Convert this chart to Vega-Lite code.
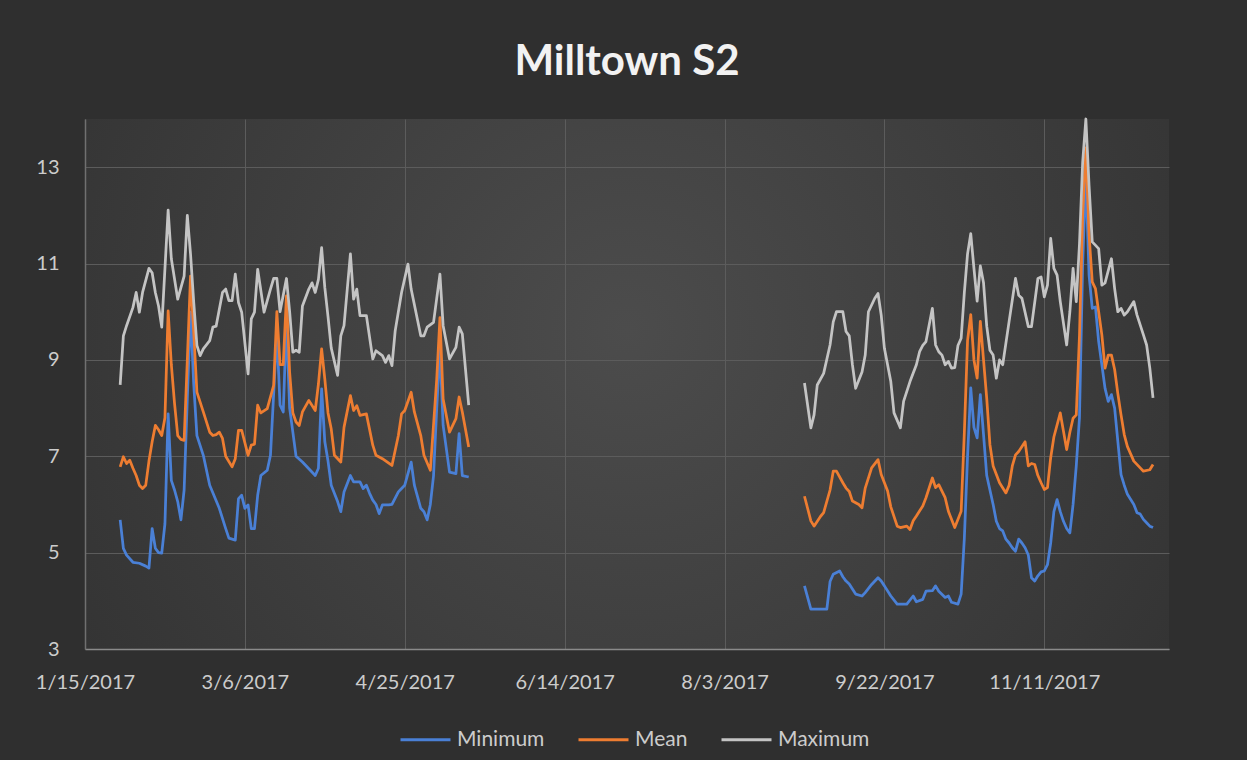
{
  "$schema": "https://vega.github.io/schema/vega-lite/v6.json",
  "width": 1084,
  "height": 530,
  "padding": {"left": 35, "top": 40, "right": 79, "bottom": 10},
  "background": "#2f2f2f",
  "title": {"text": "Milltown S2", "fontSize": 42, "font": "Lato", "fontWeight": "bold", "color": "#f2f2f2", "offset": 34, "anchor": "middle"},
  "config": {
    "view": {"stroke": null, "fill": {"gradient": "radial", "x1": 0.5, "y1": 0.45, "r1": 0, "x2": 0.5, "y2": 0.45, "r2": 0.75, "stops": [{"offset": 0, "color": "#4c4c4c"}, {"offset": 1, "color": "#2d2d2d"}]}},
    "font": "Lato",
    "axisX": {"grid": true, "gridColor": "#5c5c5c", "gridWidth": 1, "domainColor": "#8a8a8a", "domainWidth": 1.5, "ticks": false, "labelFontSize": 20, "labelColor": "#cccccc", "labelPadding": 23, "labelFlush": false, "labelOverlap": false, "labelFont": "Lato"},
    "axisY": {"grid": true, "gridColor": "#5c5c5c", "gridWidth": 1, "domainColor": "#707070", "domainWidth": 1.5, "ticks": false, "labelFontSize": 20, "labelColor": "#cccccc", "labelPadding": 26, "labelFont": "Lato"},
    "legend": {"symbolType": "stroke", "symbolSize": 2500, "symbolStrokeWidth": 3, "labelFontSize": 21, "labelColor": "#cccccc", "labelFont": "Lato", "columnPadding": 27, "labelOffset": 5}
  },
  "data": {"values": [
    {"d":"2017-01-26","s":"Minimum","v":5.68,"p":1},
    {"d":"2017-01-27","s":"Minimum","v":5.09,"p":1},
    {"d":"2017-01-28","s":"Minimum","v":4.95,"p":1},
    {"d":"2017-01-30","s":"Minimum","v":4.8,"p":1},
    {"d":"2017-02-01","s":"Minimum","v":4.78,"p":1},
    {"d":"2017-02-03","s":"Minimum","v":4.72,"p":1},
    {"d":"2017-02-04","s":"Minimum","v":4.68,"p":1},
    {"d":"2017-02-05","s":"Minimum","v":5.5,"p":1},
    {"d":"2017-02-06","s":"Minimum","v":5.09,"p":1},
    {"d":"2017-02-07","s":"Minimum","v":5.0,"p":1},
    {"d":"2017-02-08","s":"Minimum","v":4.99,"p":1},
    {"d":"2017-02-09","s":"Minimum","v":5.6,"p":1},
    {"d":"2017-02-10","s":"Minimum","v":7.88,"p":1},
    {"d":"2017-02-11","s":"Minimum","v":6.5,"p":1},
    {"d":"2017-02-12","s":"Minimum","v":6.3,"p":1},
    {"d":"2017-02-13","s":"Minimum","v":6.06,"p":1},
    {"d":"2017-02-14","s":"Minimum","v":5.68,"p":1},
    {"d":"2017-02-15","s":"Minimum","v":6.3,"p":1},
    {"d":"2017-02-16","s":"Minimum","v":8.2,"p":1},
    {"d":"2017-02-17","s":"Minimum","v":9.99,"p":1},
    {"d":"2017-02-18","s":"Minimum","v":8.5,"p":1},
    {"d":"2017-02-19","s":"Minimum","v":7.43,"p":1},
    {"d":"2017-02-21","s":"Minimum","v":7.02,"p":1},
    {"d":"2017-02-23","s":"Minimum","v":6.4,"p":1},
    {"d":"2017-02-26","s":"Minimum","v":5.92,"p":1},
    {"d":"2017-02-28","s":"Minimum","v":5.5,"p":1},
    {"d":"2017-03-01","s":"Minimum","v":5.3,"p":1},
    {"d":"2017-03-03","s":"Minimum","v":5.26,"p":1},
    {"d":"2017-03-04","s":"Minimum","v":6.12,"p":1},
    {"d":"2017-03-05","s":"Minimum","v":6.19,"p":1},
    {"d":"2017-03-06","s":"Minimum","v":5.92,"p":1},
    {"d":"2017-03-07","s":"Minimum","v":5.99,"p":1},
    {"d":"2017-03-08","s":"Minimum","v":5.5,"p":1},
    {"d":"2017-03-09","s":"Minimum","v":5.5,"p":1},
    {"d":"2017-03-10","s":"Minimum","v":6.19,"p":1},
    {"d":"2017-03-11","s":"Minimum","v":6.6,"p":1},
    {"d":"2017-03-13","s":"Minimum","v":6.71,"p":1},
    {"d":"2017-03-14","s":"Minimum","v":7.02,"p":1},
    {"d":"2017-03-16","s":"Minimum","v":9.57,"p":1},
    {"d":"2017-03-17","s":"Minimum","v":8.06,"p":1},
    {"d":"2017-03-18","s":"Minimum","v":7.92,"p":1},
    {"d":"2017-03-19","s":"Minimum","v":9.8,"p":1},
    {"d":"2017-03-20","s":"Minimum","v":8.0,"p":1},
    {"d":"2017-03-21","s":"Minimum","v":7.5,"p":1},
    {"d":"2017-03-22","s":"Minimum","v":7.0,"p":1},
    {"d":"2017-03-24","s":"Minimum","v":6.88,"p":1},
    {"d":"2017-03-26","s":"Minimum","v":6.74,"p":1},
    {"d":"2017-03-28","s":"Minimum","v":6.6,"p":1},
    {"d":"2017-03-29","s":"Minimum","v":6.75,"p":1},
    {"d":"2017-03-30","s":"Minimum","v":8.4,"p":1},
    {"d":"2017-03-31","s":"Minimum","v":7.3,"p":1},
    {"d":"2017-04-01","s":"Minimum","v":6.9,"p":1},
    {"d":"2017-04-02","s":"Minimum","v":6.4,"p":1},
    {"d":"2017-04-04","s":"Minimum","v":6.06,"p":1},
    {"d":"2017-04-05","s":"Minimum","v":5.85,"p":1},
    {"d":"2017-04-06","s":"Minimum","v":6.26,"p":1},
    {"d":"2017-04-08","s":"Minimum","v":6.6,"p":1},
    {"d":"2017-04-09","s":"Minimum","v":6.47,"p":1},
    {"d":"2017-04-11","s":"Minimum","v":6.47,"p":1},
    {"d":"2017-04-12","s":"Minimum","v":6.33,"p":1},
    {"d":"2017-04-13","s":"Minimum","v":6.4,"p":1},
    {"d":"2017-04-14","s":"Minimum","v":6.23,"p":1},
    {"d":"2017-04-15","s":"Minimum","v":6.09,"p":1},
    {"d":"2017-04-16","s":"Minimum","v":6.0,"p":1},
    {"d":"2017-04-17","s":"Minimum","v":5.81,"p":1},
    {"d":"2017-04-18","s":"Minimum","v":5.99,"p":1},
    {"d":"2017-04-20","s":"Minimum","v":5.99,"p":1},
    {"d":"2017-04-21","s":"Minimum","v":6.0,"p":1},
    {"d":"2017-04-23","s":"Minimum","v":6.26,"p":1},
    {"d":"2017-04-24","s":"Minimum","v":6.33,"p":1},
    {"d":"2017-04-25","s":"Minimum","v":6.4,"p":1},
    {"d":"2017-04-27","s":"Minimum","v":6.88,"p":1},
    {"d":"2017-04-28","s":"Minimum","v":6.4,"p":1},
    {"d":"2017-04-30","s":"Minimum","v":5.92,"p":1},
    {"d":"2017-05-01","s":"Minimum","v":5.85,"p":1},
    {"d":"2017-05-02","s":"Minimum","v":5.68,"p":1},
    {"d":"2017-05-03","s":"Minimum","v":6.0,"p":1},
    {"d":"2017-05-04","s":"Minimum","v":6.6,"p":1},
    {"d":"2017-05-05","s":"Minimum","v":8.0,"p":1},
    {"d":"2017-05-06","s":"Minimum","v":9.23,"p":1},
    {"d":"2017-05-07","s":"Minimum","v":7.64,"p":1},
    {"d":"2017-05-09","s":"Minimum","v":6.67,"p":1},
    {"d":"2017-05-11","s":"Minimum","v":6.64,"p":1},
    {"d":"2017-05-12","s":"Minimum","v":7.47,"p":1},
    {"d":"2017-05-13","s":"Minimum","v":6.6,"p":1},
    {"d":"2017-05-15","s":"Minimum","v":6.57,"p":1},
    {"d":"2017-08-28","s":"Minimum","v":4.31,"p":2},
    {"d":"2017-08-30","s":"Minimum","v":3.83,"p":2},
    {"d":"2017-09-04","s":"Minimum","v":3.83,"p":2},
    {"d":"2017-09-05","s":"Minimum","v":4.4,"p":2},
    {"d":"2017-09-06","s":"Minimum","v":4.55,"p":2},
    {"d":"2017-09-08","s":"Minimum","v":4.62,"p":2},
    {"d":"2017-09-09","s":"Minimum","v":4.5,"p":2},
    {"d":"2017-09-10","s":"Minimum","v":4.41,"p":2},
    {"d":"2017-09-11","s":"Minimum","v":4.35,"p":2},
    {"d":"2017-09-13","s":"Minimum","v":4.14,"p":2},
    {"d":"2017-09-15","s":"Minimum","v":4.1,"p":2},
    {"d":"2017-09-16","s":"Minimum","v":4.17,"p":2},
    {"d":"2017-09-18","s":"Minimum","v":4.34,"p":2},
    {"d":"2017-09-20","s":"Minimum","v":4.48,"p":2},
    {"d":"2017-09-21","s":"Minimum","v":4.41,"p":2},
    {"d":"2017-09-22","s":"Minimum","v":4.31,"p":2},
    {"d":"2017-09-24","s":"Minimum","v":4.1,"p":2},
    {"d":"2017-09-26","s":"Minimum","v":3.93,"p":2},
    {"d":"2017-09-29","s":"Minimum","v":3.93,"p":2},
    {"d":"2017-10-01","s":"Minimum","v":4.1,"p":2},
    {"d":"2017-10-02","s":"Minimum","v":3.98,"p":2},
    {"d":"2017-10-04","s":"Minimum","v":4.03,"p":2},
    {"d":"2017-10-05","s":"Minimum","v":4.2,"p":2},
    {"d":"2017-10-07","s":"Minimum","v":4.21,"p":2},
    {"d":"2017-10-08","s":"Minimum","v":4.31,"p":2},
    {"d":"2017-10-09","s":"Minimum","v":4.2,"p":2},
    {"d":"2017-10-11","s":"Minimum","v":4.07,"p":2},
    {"d":"2017-10-12","s":"Minimum","v":4.1,"p":2},
    {"d":"2017-10-13","s":"Minimum","v":3.97,"p":2},
    {"d":"2017-10-15","s":"Minimum","v":3.93,"p":2},
    {"d":"2017-10-16","s":"Minimum","v":4.14,"p":2},
    {"d":"2017-10-17","s":"Minimum","v":5.3,"p":2},
    {"d":"2017-10-18","s":"Minimum","v":7.0,"p":2},
    {"d":"2017-10-19","s":"Minimum","v":8.42,"p":2},
    {"d":"2017-10-20","s":"Minimum","v":7.6,"p":2},
    {"d":"2017-10-21","s":"Minimum","v":7.38,"p":2},
    {"d":"2017-10-22","s":"Minimum","v":8.28,"p":2},
    {"d":"2017-10-23","s":"Minimum","v":7.45,"p":2},
    {"d":"2017-10-24","s":"Minimum","v":6.6,"p":2},
    {"d":"2017-10-25","s":"Minimum","v":6.3,"p":2},
    {"d":"2017-10-26","s":"Minimum","v":6.0,"p":2},
    {"d":"2017-10-27","s":"Minimum","v":5.65,"p":2},
    {"d":"2017-10-28","s":"Minimum","v":5.5,"p":2},
    {"d":"2017-10-29","s":"Minimum","v":5.45,"p":2},
    {"d":"2017-10-30","s":"Minimum","v":5.28,"p":2},
    {"d":"2017-10-31","s":"Minimum","v":5.2,"p":2},
    {"d":"2017-11-01","s":"Minimum","v":5.1,"p":2},
    {"d":"2017-11-02","s":"Minimum","v":5.03,"p":2},
    {"d":"2017-11-03","s":"Minimum","v":5.28,"p":2},
    {"d":"2017-11-04","s":"Minimum","v":5.2,"p":2},
    {"d":"2017-11-05","s":"Minimum","v":5.1,"p":2},
    {"d":"2017-11-06","s":"Minimum","v":4.95,"p":2},
    {"d":"2017-11-07","s":"Minimum","v":4.48,"p":2},
    {"d":"2017-11-08","s":"Minimum","v":4.41,"p":2},
    {"d":"2017-11-09","s":"Minimum","v":4.52,"p":2},
    {"d":"2017-11-10","s":"Minimum","v":4.6,"p":2},
    {"d":"2017-11-11","s":"Minimum","v":4.62,"p":2},
    {"d":"2017-11-12","s":"Minimum","v":4.75,"p":2},
    {"d":"2017-11-13","s":"Minimum","v":5.2,"p":2},
    {"d":"2017-11-14","s":"Minimum","v":5.85,"p":2},
    {"d":"2017-11-15","s":"Minimum","v":6.1,"p":2},
    {"d":"2017-11-16","s":"Minimum","v":5.85,"p":2},
    {"d":"2017-11-17","s":"Minimum","v":5.65,"p":2},
    {"d":"2017-11-18","s":"Minimum","v":5.5,"p":2},
    {"d":"2017-11-19","s":"Minimum","v":5.41,"p":2},
    {"d":"2017-11-20","s":"Minimum","v":6.0,"p":2},
    {"d":"2017-11-21","s":"Minimum","v":6.8,"p":2},
    {"d":"2017-11-22","s":"Minimum","v":7.8,"p":2},
    {"d":"2017-11-23","s":"Minimum","v":11.0,"p":2},
    {"d":"2017-11-24","s":"Minimum","v":12.8,"p":2},
    {"d":"2017-11-25","s":"Minimum","v":10.76,"p":2},
    {"d":"2017-11-26","s":"Minimum","v":10.07,"p":2},
    {"d":"2017-11-27","s":"Minimum","v":10.1,"p":2},
    {"d":"2017-11-28","s":"Minimum","v":9.38,"p":2},
    {"d":"2017-11-29","s":"Minimum","v":8.9,"p":2},
    {"d":"2017-11-30","s":"Minimum","v":8.41,"p":2},
    {"d":"2017-12-01","s":"Minimum","v":8.14,"p":2},
    {"d":"2017-12-02","s":"Minimum","v":8.28,"p":2},
    {"d":"2017-12-03","s":"Minimum","v":8.0,"p":2},
    {"d":"2017-12-04","s":"Minimum","v":7.31,"p":2},
    {"d":"2017-12-05","s":"Minimum","v":6.62,"p":2},
    {"d":"2017-12-06","s":"Minimum","v":6.4,"p":2},
    {"d":"2017-12-07","s":"Minimum","v":6.21,"p":2},
    {"d":"2017-12-09","s":"Minimum","v":6.0,"p":2},
    {"d":"2017-12-10","s":"Minimum","v":5.83,"p":2},
    {"d":"2017-12-11","s":"Minimum","v":5.8,"p":2},
    {"d":"2017-12-12","s":"Minimum","v":5.69,"p":2},
    {"d":"2017-12-13","s":"Minimum","v":5.62,"p":2},
    {"d":"2017-12-14","s":"Minimum","v":5.55,"p":2},
    {"d":"2017-12-15","s":"Minimum","v":5.52,"p":2},

    {"d":"2017-01-26","s":"Mean","v":6.78,"p":1},
    {"d":"2017-01-27","s":"Mean","v":6.99,"p":1},
    {"d":"2017-01-28","s":"Mean","v":6.85,"p":1},
    {"d":"2017-01-29","s":"Mean","v":6.92,"p":1},
    {"d":"2017-01-30","s":"Mean","v":6.75,"p":1},
    {"d":"2017-01-31","s":"Mean","v":6.6,"p":1},
    {"d":"2017-02-01","s":"Mean","v":6.4,"p":1},
    {"d":"2017-02-02","s":"Mean","v":6.33,"p":1},
    {"d":"2017-02-03","s":"Mean","v":6.4,"p":1},
    {"d":"2017-02-04","s":"Mean","v":6.9,"p":1},
    {"d":"2017-02-05","s":"Mean","v":7.3,"p":1},
    {"d":"2017-02-06","s":"Mean","v":7.64,"p":1},
    {"d":"2017-02-07","s":"Mean","v":7.55,"p":1},
    {"d":"2017-02-08","s":"Mean","v":7.43,"p":1},
    {"d":"2017-02-09","s":"Mean","v":7.8,"p":1},
    {"d":"2017-02-10","s":"Mean","v":10.02,"p":1},
    {"d":"2017-02-11","s":"Mean","v":8.9,"p":1},
    {"d":"2017-02-12","s":"Mean","v":8.1,"p":1},
    {"d":"2017-02-13","s":"Mean","v":7.43,"p":1},
    {"d":"2017-02-14","s":"Mean","v":7.35,"p":1},
    {"d":"2017-02-15","s":"Mean","v":7.33,"p":1},
    {"d":"2017-02-16","s":"Mean","v":9.0,"p":1},
    {"d":"2017-02-17","s":"Mean","v":10.74,"p":1},
    {"d":"2017-02-18","s":"Mean","v":9.57,"p":1},
    {"d":"2017-02-19","s":"Mean","v":8.33,"p":1},
    {"d":"2017-02-21","s":"Mean","v":7.92,"p":1},
    {"d":"2017-02-23","s":"Mean","v":7.5,"p":1},
    {"d":"2017-02-24","s":"Mean","v":7.43,"p":1},
    {"d":"2017-02-25","s":"Mean","v":7.45,"p":1},
    {"d":"2017-02-26","s":"Mean","v":7.5,"p":1},
    {"d":"2017-02-27","s":"Mean","v":7.37,"p":1},
    {"d":"2017-02-28","s":"Mean","v":7.0,"p":1},
    {"d":"2017-03-02","s":"Mean","v":6.78,"p":1},
    {"d":"2017-03-03","s":"Mean","v":6.95,"p":1},
    {"d":"2017-03-04","s":"Mean","v":7.54,"p":1},
    {"d":"2017-03-05","s":"Mean","v":7.54,"p":1},
    {"d":"2017-03-07","s":"Mean","v":7.02,"p":1},
    {"d":"2017-03-08","s":"Mean","v":7.23,"p":1},
    {"d":"2017-03-09","s":"Mean","v":7.25,"p":1},
    {"d":"2017-03-10","s":"Mean","v":8.06,"p":1},
    {"d":"2017-03-11","s":"Mean","v":7.9,"p":1},
    {"d":"2017-03-13","s":"Mean","v":7.99,"p":1},
    {"d":"2017-03-15","s":"Mean","v":8.47,"p":1},
    {"d":"2017-03-16","s":"Mean","v":10.0,"p":1},
    {"d":"2017-03-17","s":"Mean","v":8.9,"p":1},
    {"d":"2017-03-18","s":"Mean","v":8.9,"p":1},
    {"d":"2017-03-19","s":"Mean","v":10.33,"p":1},
    {"d":"2017-03-20","s":"Mean","v":8.74,"p":1},
    {"d":"2017-03-21","s":"Mean","v":7.9,"p":1},
    {"d":"2017-03-22","s":"Mean","v":7.71,"p":1},
    {"d":"2017-03-23","s":"Mean","v":7.64,"p":1},
    {"d":"2017-03-24","s":"Mean","v":7.92,"p":1},
    {"d":"2017-03-26","s":"Mean","v":8.16,"p":1},
    {"d":"2017-03-28","s":"Mean","v":7.95,"p":1},
    {"d":"2017-03-29","s":"Mean","v":8.5,"p":1},
    {"d":"2017-03-30","s":"Mean","v":9.23,"p":1},
    {"d":"2017-03-31","s":"Mean","v":8.6,"p":1},
    {"d":"2017-04-01","s":"Mean","v":7.9,"p":1},
    {"d":"2017-04-02","s":"Mean","v":7.57,"p":1},
    {"d":"2017-04-03","s":"Mean","v":7.02,"p":1},
    {"d":"2017-04-05","s":"Mean","v":6.88,"p":1},
    {"d":"2017-04-06","s":"Mean","v":7.6,"p":1},
    {"d":"2017-04-08","s":"Mean","v":8.26,"p":1},
    {"d":"2017-04-09","s":"Mean","v":7.95,"p":1},
    {"d":"2017-04-10","s":"Mean","v":8.05,"p":1},
    {"d":"2017-04-11","s":"Mean","v":7.85,"p":1},
    {"d":"2017-04-13","s":"Mean","v":7.88,"p":1},
    {"d":"2017-04-15","s":"Mean","v":7.23,"p":1},
    {"d":"2017-04-16","s":"Mean","v":7.02,"p":1},
    {"d":"2017-04-18","s":"Mean","v":6.95,"p":1},
    {"d":"2017-04-21","s":"Mean","v":6.81,"p":1},
    {"d":"2017-04-23","s":"Mean","v":7.43,"p":1},
    {"d":"2017-04-24","s":"Mean","v":7.88,"p":1},
    {"d":"2017-04-25","s":"Mean","v":7.95,"p":1},
    {"d":"2017-04-27","s":"Mean","v":8.33,"p":1},
    {"d":"2017-04-28","s":"Mean","v":7.92,"p":1},
    {"d":"2017-04-30","s":"Mean","v":7.43,"p":1},
    {"d":"2017-05-01","s":"Mean","v":7.02,"p":1},
    {"d":"2017-05-03","s":"Mean","v":6.71,"p":1},
    {"d":"2017-05-05","s":"Mean","v":8.6,"p":1},
    {"d":"2017-05-06","s":"Mean","v":9.88,"p":1},
    {"d":"2017-05-07","s":"Mean","v":8.19,"p":1},
    {"d":"2017-05-09","s":"Mean","v":7.5,"p":1},
    {"d":"2017-05-11","s":"Mean","v":7.78,"p":1},
    {"d":"2017-05-12","s":"Mean","v":8.23,"p":1},
    {"d":"2017-05-13","s":"Mean","v":7.92,"p":1},
    {"d":"2017-05-15","s":"Mean","v":7.19,"p":1},
    {"d":"2017-08-28","s":"Mean","v":6.17,"p":2},
    {"d":"2017-08-30","s":"Mean","v":5.66,"p":2},
    {"d":"2017-08-31","s":"Mean","v":5.55,"p":2},
    {"d":"2017-09-02","s":"Mean","v":5.75,"p":2},
    {"d":"2017-09-03","s":"Mean","v":5.83,"p":2},
    {"d":"2017-09-05","s":"Mean","v":6.3,"p":2},
    {"d":"2017-09-06","s":"Mean","v":6.69,"p":2},
    {"d":"2017-09-07","s":"Mean","v":6.69,"p":2},
    {"d":"2017-09-09","s":"Mean","v":6.45,"p":2},
    {"d":"2017-09-10","s":"Mean","v":6.34,"p":2},
    {"d":"2017-09-11","s":"Mean","v":6.27,"p":2},
    {"d":"2017-09-12","s":"Mean","v":6.07,"p":2},
    {"d":"2017-09-14","s":"Mean","v":6.0,"p":2},
    {"d":"2017-09-15","s":"Mean","v":5.93,"p":2},
    {"d":"2017-09-16","s":"Mean","v":6.34,"p":2},
    {"d":"2017-09-18","s":"Mean","v":6.76,"p":2},
    {"d":"2017-09-20","s":"Mean","v":6.93,"p":2},
    {"d":"2017-09-21","s":"Mean","v":6.62,"p":2},
    {"d":"2017-09-23","s":"Mean","v":6.28,"p":2},
    {"d":"2017-09-24","s":"Mean","v":5.95,"p":2},
    {"d":"2017-09-26","s":"Mean","v":5.55,"p":2},
    {"d":"2017-09-27","s":"Mean","v":5.52,"p":2},
    {"d":"2017-09-29","s":"Mean","v":5.55,"p":2},
    {"d":"2017-09-30","s":"Mean","v":5.48,"p":2},
    {"d":"2017-10-01","s":"Mean","v":5.66,"p":2},
    {"d":"2017-10-02","s":"Mean","v":5.76,"p":2},
    {"d":"2017-10-04","s":"Mean","v":5.97,"p":2},
    {"d":"2017-10-05","s":"Mean","v":6.14,"p":2},
    {"d":"2017-10-07","s":"Mean","v":6.55,"p":2},
    {"d":"2017-10-08","s":"Mean","v":6.35,"p":2},
    {"d":"2017-10-09","s":"Mean","v":6.41,"p":2},
    {"d":"2017-10-11","s":"Mean","v":6.14,"p":2},
    {"d":"2017-10-12","s":"Mean","v":5.86,"p":2},
    {"d":"2017-10-14","s":"Mean","v":5.52,"p":2},
    {"d":"2017-10-16","s":"Mean","v":5.86,"p":2},
    {"d":"2017-10-17","s":"Mean","v":7.5,"p":2},
    {"d":"2017-10-18","s":"Mean","v":9.4,"p":2},
    {"d":"2017-10-19","s":"Mean","v":9.94,"p":2},
    {"d":"2017-10-20","s":"Mean","v":9.0,"p":2},
    {"d":"2017-10-21","s":"Mean","v":8.62,"p":2},
    {"d":"2017-10-22","s":"Mean","v":9.8,"p":2},
    {"d":"2017-10-23","s":"Mean","v":9.0,"p":2},
    {"d":"2017-10-24","s":"Mean","v":8.2,"p":2},
    {"d":"2017-10-25","s":"Mean","v":7.24,"p":2},
    {"d":"2017-10-26","s":"Mean","v":6.8,"p":2},
    {"d":"2017-10-28","s":"Mean","v":6.45,"p":2},
    {"d":"2017-10-30","s":"Mean","v":6.24,"p":2},
    {"d":"2017-10-31","s":"Mean","v":6.4,"p":2},
    {"d":"2017-11-01","s":"Mean","v":6.8,"p":2},
    {"d":"2017-11-02","s":"Mean","v":7.03,"p":2},
    {"d":"2017-11-03","s":"Mean","v":7.1,"p":2},
    {"d":"2017-11-05","s":"Mean","v":7.3,"p":2},
    {"d":"2017-11-06","s":"Mean","v":6.8,"p":2},
    {"d":"2017-11-07","s":"Mean","v":6.85,"p":2},
    {"d":"2017-11-08","s":"Mean","v":6.83,"p":2},
    {"d":"2017-11-09","s":"Mean","v":6.6,"p":2},
    {"d":"2017-11-10","s":"Mean","v":6.45,"p":2},
    {"d":"2017-11-11","s":"Mean","v":6.31,"p":2},
    {"d":"2017-11-12","s":"Mean","v":6.35,"p":2},
    {"d":"2017-11-13","s":"Mean","v":6.97,"p":2},
    {"d":"2017-11-14","s":"Mean","v":7.4,"p":2},
    {"d":"2017-11-16","s":"Mean","v":7.9,"p":2},
    {"d":"2017-11-17","s":"Mean","v":7.52,"p":2},
    {"d":"2017-11-18","s":"Mean","v":7.14,"p":2},
    {"d":"2017-11-19","s":"Mean","v":7.5,"p":2},
    {"d":"2017-11-20","s":"Mean","v":7.79,"p":2},
    {"d":"2017-11-21","s":"Mean","v":7.86,"p":2},
    {"d":"2017-11-22","s":"Mean","v":9.5,"p":2},
    {"d":"2017-11-23","s":"Mean","v":12.0,"p":2},
    {"d":"2017-11-24","s":"Mean","v":13.4,"p":2},
    {"d":"2017-11-25","s":"Mean","v":11.6,"p":2},
    {"d":"2017-11-26","s":"Mean","v":10.62,"p":2},
    {"d":"2017-11-27","s":"Mean","v":10.48,"p":2},
    {"d":"2017-11-28","s":"Mean","v":10.0,"p":2},
    {"d":"2017-11-29","s":"Mean","v":9.52,"p":2},
    {"d":"2017-11-30","s":"Mean","v":8.83,"p":2},
    {"d":"2017-12-01","s":"Mean","v":9.1,"p":2},
    {"d":"2017-12-02","s":"Mean","v":9.1,"p":2},
    {"d":"2017-12-03","s":"Mean","v":8.8,"p":2},
    {"d":"2017-12-04","s":"Mean","v":8.3,"p":2},
    {"d":"2017-12-05","s":"Mean","v":7.86,"p":2},
    {"d":"2017-12-06","s":"Mean","v":7.45,"p":2},
    {"d":"2017-12-07","s":"Mean","v":7.2,"p":2},
    {"d":"2017-12-08","s":"Mean","v":7.05,"p":2},
    {"d":"2017-12-09","s":"Mean","v":6.9,"p":2},
    {"d":"2017-12-11","s":"Mean","v":6.76,"p":2},
    {"d":"2017-12-12","s":"Mean","v":6.69,"p":2},
    {"d":"2017-12-14","s":"Mean","v":6.72,"p":2},
    {"d":"2017-12-15","s":"Mean","v":6.83,"p":2},

    {"d":"2017-01-26","s":"Maximum","v":8.48,"p":1},
    {"d":"2017-01-27","s":"Maximum","v":9.5,"p":1},
    {"d":"2017-01-28","s":"Maximum","v":9.71,"p":1},
    {"d":"2017-01-30","s":"Maximum","v":10.09,"p":1},
    {"d":"2017-01-31","s":"Maximum","v":10.4,"p":1},
    {"d":"2017-02-01","s":"Maximum","v":9.99,"p":1},
    {"d":"2017-02-02","s":"Maximum","v":10.4,"p":1},
    {"d":"2017-02-04","s":"Maximum","v":10.9,"p":1},
    {"d":"2017-02-05","s":"Maximum","v":10.81,"p":1},
    {"d":"2017-02-06","s":"Maximum","v":10.4,"p":1},
    {"d":"2017-02-07","s":"Maximum","v":10.12,"p":1},
    {"d":"2017-02-08","s":"Maximum","v":9.68,"p":1},
    {"d":"2017-02-10","s":"Maximum","v":12.11,"p":1},
    {"d":"2017-02-11","s":"Maximum","v":11.1,"p":1},
    {"d":"2017-02-13","s":"Maximum","v":10.26,"p":1},
    {"d":"2017-02-15","s":"Maximum","v":10.74,"p":1},
    {"d":"2017-02-16","s":"Maximum","v":12.0,"p":1},
    {"d":"2017-02-17","s":"Maximum","v":11.2,"p":1},
    {"d":"2017-02-18","s":"Maximum","v":10.2,"p":1},
    {"d":"2017-02-19","s":"Maximum","v":9.3,"p":1},
    {"d":"2017-02-20","s":"Maximum","v":9.09,"p":1},
    {"d":"2017-02-21","s":"Maximum","v":9.23,"p":1},
    {"d":"2017-02-23","s":"Maximum","v":9.4,"p":1},
    {"d":"2017-02-24","s":"Maximum","v":9.68,"p":1},
    {"d":"2017-02-25","s":"Maximum","v":9.7,"p":1},
    {"d":"2017-02-27","s":"Maximum","v":10.4,"p":1},
    {"d":"2017-02-28","s":"Maximum","v":10.47,"p":1},
    {"d":"2017-03-01","s":"Maximum","v":10.23,"p":1},
    {"d":"2017-03-02","s":"Maximum","v":10.23,"p":1},
    {"d":"2017-03-03","s":"Maximum","v":10.78,"p":1},
    {"d":"2017-03-04","s":"Maximum","v":10.19,"p":1},
    {"d":"2017-03-05","s":"Maximum","v":9.99,"p":1},
    {"d":"2017-03-07","s":"Maximum","v":8.71,"p":1},
    {"d":"2017-03-08","s":"Maximum","v":9.85,"p":1},
    {"d":"2017-03-09","s":"Maximum","v":9.99,"p":1},
    {"d":"2017-03-10","s":"Maximum","v":10.88,"p":1},
    {"d":"2017-03-12","s":"Maximum","v":9.99,"p":1},
    {"d":"2017-03-14","s":"Maximum","v":10.47,"p":1},
    {"d":"2017-03-15","s":"Maximum","v":10.69,"p":1},
    {"d":"2017-03-16","s":"Maximum","v":10.69,"p":1},
    {"d":"2017-03-17","s":"Maximum","v":10.0,"p":1},
    {"d":"2017-03-19","s":"Maximum","v":10.69,"p":1},
    {"d":"2017-03-20","s":"Maximum","v":10.0,"p":1},
    {"d":"2017-03-21","s":"Maximum","v":9.16,"p":1},
    {"d":"2017-03-22","s":"Maximum","v":9.2,"p":1},
    {"d":"2017-03-23","s":"Maximum","v":9.16,"p":1},
    {"d":"2017-03-24","s":"Maximum","v":10.12,"p":1},
    {"d":"2017-03-26","s":"Maximum","v":10.47,"p":1},
    {"d":"2017-03-27","s":"Maximum","v":10.6,"p":1},
    {"d":"2017-03-28","s":"Maximum","v":10.4,"p":1},
    {"d":"2017-03-29","s":"Maximum","v":10.67,"p":1},
    {"d":"2017-03-30","s":"Maximum","v":11.33,"p":1},
    {"d":"2017-03-31","s":"Maximum","v":10.5,"p":1},
    {"d":"2017-04-01","s":"Maximum","v":9.9,"p":1},
    {"d":"2017-04-02","s":"Maximum","v":9.25,"p":1},
    {"d":"2017-04-04","s":"Maximum","v":8.68,"p":1},
    {"d":"2017-04-05","s":"Maximum","v":9.5,"p":1},
    {"d":"2017-04-06","s":"Maximum","v":9.71,"p":1},
    {"d":"2017-04-08","s":"Maximum","v":11.2,"p":1},
    {"d":"2017-04-09","s":"Maximum","v":10.26,"p":1},
    {"d":"2017-04-10","s":"Maximum","v":10.47,"p":1},
    {"d":"2017-04-11","s":"Maximum","v":9.92,"p":1},
    {"d":"2017-04-13","s":"Maximum","v":9.92,"p":1},
    {"d":"2017-04-15","s":"Maximum","v":9.02,"p":1},
    {"d":"2017-04-16","s":"Maximum","v":9.19,"p":1},
    {"d":"2017-04-18","s":"Maximum","v":9.09,"p":1},
    {"d":"2017-04-19","s":"Maximum","v":8.95,"p":1},
    {"d":"2017-04-20","s":"Maximum","v":9.09,"p":1},
    {"d":"2017-04-21","s":"Maximum","v":8.88,"p":1},
    {"d":"2017-04-22","s":"Maximum","v":9.6,"p":1},
    {"d":"2017-04-24","s":"Maximum","v":10.4,"p":1},
    {"d":"2017-04-26","s":"Maximum","v":10.99,"p":1},
    {"d":"2017-04-27","s":"Maximum","v":10.47,"p":1},
    {"d":"2017-04-30","s":"Maximum","v":9.5,"p":1},
    {"d":"2017-05-01","s":"Maximum","v":9.5,"p":1},
    {"d":"2017-05-02","s":"Maximum","v":9.68,"p":1},
    {"d":"2017-05-04","s":"Maximum","v":9.78,"p":1},
    {"d":"2017-05-06","s":"Maximum","v":10.78,"p":1},
    {"d":"2017-05-07","s":"Maximum","v":9.71,"p":1},
    {"d":"2017-05-09","s":"Maximum","v":9.02,"p":1},
    {"d":"2017-05-11","s":"Maximum","v":9.26,"p":1},
    {"d":"2017-05-12","s":"Maximum","v":9.68,"p":1},
    {"d":"2017-05-13","s":"Maximum","v":9.54,"p":1},
    {"d":"2017-05-15","s":"Maximum","v":8.06,"p":1},
    {"d":"2017-08-28","s":"Maximum","v":8.52,"p":2},
    {"d":"2017-08-30","s":"Maximum","v":7.59,"p":2},
    {"d":"2017-08-31","s":"Maximum","v":7.86,"p":2},
    {"d":"2017-09-01","s":"Maximum","v":8.48,"p":2},
    {"d":"2017-09-03","s":"Maximum","v":8.72,"p":2},
    {"d":"2017-09-05","s":"Maximum","v":9.31,"p":2},
    {"d":"2017-09-06","s":"Maximum","v":9.79,"p":2},
    {"d":"2017-09-07","s":"Maximum","v":10.0,"p":2},
    {"d":"2017-09-09","s":"Maximum","v":10.0,"p":2},
    {"d":"2017-09-10","s":"Maximum","v":9.59,"p":2},
    {"d":"2017-09-11","s":"Maximum","v":9.5,"p":2},
    {"d":"2017-09-12","s":"Maximum","v":8.9,"p":2},
    {"d":"2017-09-13","s":"Maximum","v":8.41,"p":2},
    {"d":"2017-09-15","s":"Maximum","v":8.75,"p":2},
    {"d":"2017-09-16","s":"Maximum","v":9.1,"p":2},
    {"d":"2017-09-17","s":"Maximum","v":10.0,"p":2},
    {"d":"2017-09-19","s":"Maximum","v":10.28,"p":2},
    {"d":"2017-09-20","s":"Maximum","v":10.38,"p":2},
    {"d":"2017-09-21","s":"Maximum","v":9.93,"p":2},
    {"d":"2017-09-22","s":"Maximum","v":9.24,"p":2},
    {"d":"2017-09-24","s":"Maximum","v":8.55,"p":2},
    {"d":"2017-09-25","s":"Maximum","v":7.9,"p":2},
    {"d":"2017-09-27","s":"Maximum","v":7.59,"p":2},
    {"d":"2017-09-28","s":"Maximum","v":8.14,"p":2},
    {"d":"2017-09-30","s":"Maximum","v":8.55,"p":2},
    {"d":"2017-10-02","s":"Maximum","v":8.9,"p":2},
    {"d":"2017-10-03","s":"Maximum","v":9.17,"p":2},
    {"d":"2017-10-04","s":"Maximum","v":9.3,"p":2},
    {"d":"2017-10-05","s":"Maximum","v":9.38,"p":2},
    {"d":"2017-10-07","s":"Maximum","v":10.07,"p":2},
    {"d":"2017-10-08","s":"Maximum","v":9.31,"p":2},
    {"d":"2017-10-09","s":"Maximum","v":9.17,"p":2},
    {"d":"2017-10-10","s":"Maximum","v":9.1,"p":2},
    {"d":"2017-10-11","s":"Maximum","v":8.9,"p":2},
    {"d":"2017-10-12","s":"Maximum","v":8.97,"p":2},
    {"d":"2017-10-13","s":"Maximum","v":8.83,"p":2},
    {"d":"2017-10-14","s":"Maximum","v":8.84,"p":2},
    {"d":"2017-10-15","s":"Maximum","v":9.3,"p":2},
    {"d":"2017-10-16","s":"Maximum","v":9.45,"p":2},
    {"d":"2017-10-17","s":"Maximum","v":10.4,"p":2},
    {"d":"2017-10-18","s":"Maximum","v":11.2,"p":2},
    {"d":"2017-10-19","s":"Maximum","v":11.62,"p":2},
    {"d":"2017-10-20","s":"Maximum","v":10.9,"p":2},
    {"d":"2017-10-21","s":"Maximum","v":10.22,"p":2},
    {"d":"2017-10-22","s":"Maximum","v":10.95,"p":2},
    {"d":"2017-10-23","s":"Maximum","v":10.6,"p":2},
    {"d":"2017-10-24","s":"Maximum","v":9.7,"p":2},
    {"d":"2017-10-25","s":"Maximum","v":9.2,"p":2},
    {"d":"2017-10-26","s":"Maximum","v":9.1,"p":2},
    {"d":"2017-10-27","s":"Maximum","v":8.62,"p":2},
    {"d":"2017-10-28","s":"Maximum","v":9.0,"p":2},
    {"d":"2017-10-29","s":"Maximum","v":8.9,"p":2},
    {"d":"2017-10-31","s":"Maximum","v":9.8,"p":2},
    {"d":"2017-11-02","s":"Maximum","v":10.69,"p":2},
    {"d":"2017-11-03","s":"Maximum","v":10.34,"p":2},
    {"d":"2017-11-04","s":"Maximum","v":10.28,"p":2},
    {"d":"2017-11-06","s":"Maximum","v":9.69,"p":2},
    {"d":"2017-11-07","s":"Maximum","v":9.69,"p":2},
    {"d":"2017-11-09","s":"Maximum","v":10.69,"p":2},
    {"d":"2017-11-10","s":"Maximum","v":10.72,"p":2},
    {"d":"2017-11-11","s":"Maximum","v":10.31,"p":2},
    {"d":"2017-11-12","s":"Maximum","v":10.55,"p":2},
    {"d":"2017-11-13","s":"Maximum","v":11.52,"p":2},
    {"d":"2017-11-14","s":"Maximum","v":10.9,"p":2},
    {"d":"2017-11-15","s":"Maximum","v":10.76,"p":2},
    {"d":"2017-11-16","s":"Maximum","v":10.21,"p":2},
    {"d":"2017-11-18","s":"Maximum","v":9.31,"p":2},
    {"d":"2017-11-19","s":"Maximum","v":10.0,"p":2},
    {"d":"2017-11-20","s":"Maximum","v":10.9,"p":2},
    {"d":"2017-11-21","s":"Maximum","v":10.21,"p":2},
    {"d":"2017-11-22","s":"Maximum","v":11.4,"p":2},
    {"d":"2017-11-23","s":"Maximum","v":13.1,"p":2},
    {"d":"2017-11-24","s":"Maximum","v":14.0,"p":2},
    {"d":"2017-11-25","s":"Maximum","v":12.62,"p":2},
    {"d":"2017-11-26","s":"Maximum","v":11.45,"p":2},
    {"d":"2017-11-28","s":"Maximum","v":11.31,"p":2},
    {"d":"2017-11-29","s":"Maximum","v":10.55,"p":2},
    {"d":"2017-11-30","s":"Maximum","v":10.6,"p":2},
    {"d":"2017-12-02","s":"Maximum","v":11.1,"p":2},
    {"d":"2017-12-03","s":"Maximum","v":10.48,"p":2},
    {"d":"2017-12-04","s":"Maximum","v":10.0,"p":2},
    {"d":"2017-12-05","s":"Maximum","v":10.07,"p":2},
    {"d":"2017-12-06","s":"Maximum","v":9.93,"p":2},
    {"d":"2017-12-07","s":"Maximum","v":10.0,"p":2},
    {"d":"2017-12-09","s":"Maximum","v":10.21,"p":2},
    {"d":"2017-12-10","s":"Maximum","v":9.93,"p":2},
    {"d":"2017-12-12","s":"Maximum","v":9.52,"p":2},
    {"d":"2017-12-13","s":"Maximum","v":9.31,"p":2},
    {"d":"2017-12-14","s":"Maximum","v":8.83,"p":2},
    {"d":"2017-12-15","s":"Maximum","v":8.21,"p":2}
  ]},
  "mark": {"type": "line", "strokeWidth": 2.75, "strokeJoin": "round"},
  "encoding": {
    "x": {
      "field": "d", "type": "temporal",
      "scale": {"type": "utc", "domain": [{"year": 2017, "month": 1, "date": 15, "utc": true}, {"year": 2017, "month": 12, "date": 20, "utc": true}]},
      "axis": {
        "title": null, "format": "%-m/%-d/%Y",
        "values": [
          {"year": 2017, "month": 1, "date": 15, "utc": true},
          {"year": 2017, "month": 3, "date": 6, "utc": true},
          {"year": 2017, "month": 4, "date": 25, "utc": true},
          {"year": 2017, "month": 6, "date": 14, "utc": true},
          {"year": 2017, "month": 8, "date": 3, "utc": true},
          {"year": 2017, "month": 9, "date": 22, "utc": true},
          {"year": 2017, "month": 11, "date": 11, "utc": true}
        ]
      }
    },
    "y": {
      "field": "v", "type": "quantitative",
      "scale": {"domain": [3, 14], "nice": false, "zero": false},
      "axis": {"title": null, "values": [3, 5, 7, 9, 11, 13]}
    },
    "color": {
      "field": "s", "type": "nominal",
      "scale": {"domain": ["Minimum", "Mean", "Maximum"], "range": ["#4a80d6", "#ee7d31", "#c4c4c4"]},
      "legend": {"title": null, "orient": "none", "direction": "horizontal", "legendX": 314, "legendY": 594}
    },
    "detail": {"field": "p", "type": "nominal"}
  }
}
